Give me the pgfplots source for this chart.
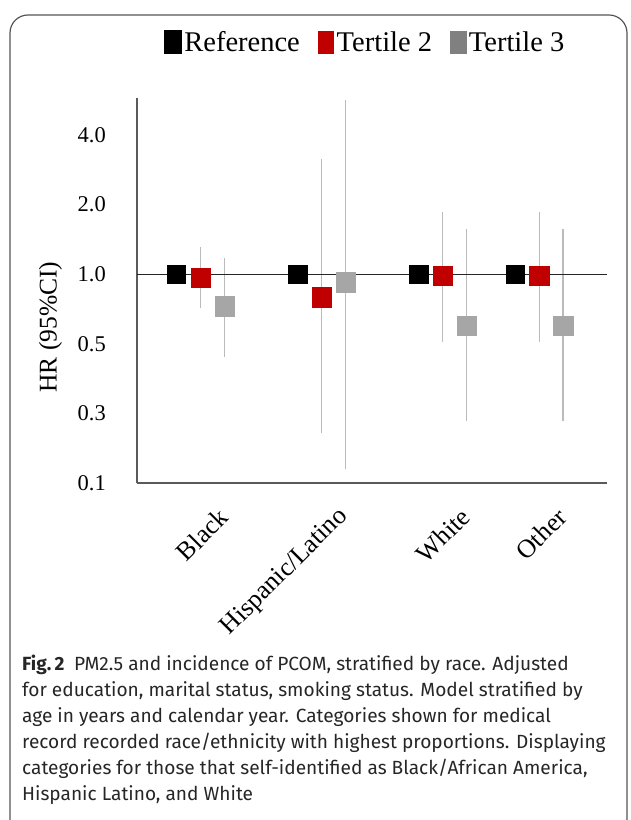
\documentclass[border=0pt]{standalone}
\usepackage{fontspec}
\usepackage{pgfplots}
\pgfplotsset{compat=1.18}
\setmainfont{Liberation Serif}
\newfontfamily\capfont{Fira Sans}
\definecolor{tred}{HTML}{C00000}
\definecolor{tgray}{HTML}{A6A6A6}
\definecolor{lgray}{HTML}{808080}
\definecolor{egray}{HTML}{BBBBBB}
\definecolor{axgray}{HTML}{5A5A5A}
\definecolor{framegray}{HTML}{555555}
\begin{document}
\begin{tikzpicture}[x=1pt,y=1pt]
\useasboundingbox (0,0) rectangle (630,820);
\draw[framegray, line width=1.2pt, rounded corners=18pt] (10,805) rectangle (627,-20);
\begin{axis}[
  at={(137pt,337pt)}, anchor=south west,
  scale only axis, width=470pt, height=385pt,
  xmin=137, xmax=607,
  ymode=log, log basis y=2,
  ymin=0.125, ymax=5.78,
  axis x line*=bottom, axis y line*=left,
  axis line style={draw=axgray, line width=1.2pt, -},
  major tick length=0pt,
  xtick={200.7,321.3,442.3,539.2},
  xticklabels={Black,Hispanic/Latino,White,Other},
  ytick={0.125,0.25,0.5,1,2,4},
  yticklabels={0.1,0.3,0.5,1.0,2.0,4.0},
  /pgf/number format/assume math mode=true,
  xticklabel style={font=\fontsize{26}{28}\selectfont, inner sep=0pt, xshift=23pt, yshift=-30pt, rotate=45, anchor=east},
  yticklabel style={font=\fontsize{22.5}{24}\selectfont, inner sep=0pt, xshift=-31pt, anchor=east},
  ylabel={HR (95\%CI)},
  every axis y label/.style={at={(axis description cs:-0.184,0.405)}, rotate=90, anchor=center, font=\fontsize{25.5}{27}\selectfont},
  legend columns=3,
  legend style={at={(axis description cs:0.487,1.145)}, anchor=center, draw=none, fill=none,
    font=\fontsize{28.5}{30}\selectfont, inner sep=0pt, nodes={inner sep=3pt},
    /tikz/every even column/.append style={column sep=15pt}},
  clip=false,
]
\addlegendimage{black, legend image code/.code={\fill[black] (0pt,-11.5pt) rectangle (16.5pt,11.5pt);}}
\addlegendentry{Reference}
\addlegendimage{tred, legend image code/.code={\fill[tred] (0pt,-11pt) rectangle (15.5pt,11pt);}}
\addlegendentry{Tertile 2}
\addlegendimage{lgray, legend image code/.code={\fill[lgray] (0pt,-11pt) rectangle (15.5pt,11pt);}}
\addlegendentry{Tertile 3}
% markers
\addplot[only marks, mark=square*, mark size=9.3pt, mark options={fill=black, draw=black, line width=0.3pt}, forget plot]
  coordinates {(176.3,1) (297.5,1) (418.5,1) (515.2,1)};
\addplot[only marks, mark=square*, mark size=9.6pt, mark options={fill=tred, draw=tred, line width=0.3pt}, forget plot]
  coordinates {(200.7,0.967) (321.3,0.796) (442.3,0.983) (539.2,0.983)};
\addplot[only marks, mark=square*, mark size=9.8pt, mark options={fill=tgray, draw=tgray, line width=0.3pt}, forget plot]
  coordinates {(224.7,0.728) (345.5,0.926) (466.5,0.599) (563,0.598)};
% confidence intervals
\addplot[egray, line width=1.4pt, forget plot] coordinates {(200.7,0.717) (200.7,1.309)};
\addplot[egray, line width=1.4pt, forget plot] coordinates {(321.3,0.205) (321.3,3.16)};
\addplot[egray, line width=1.4pt, forget plot] coordinates {(442.3,0.508) (442.3,1.85)};
\addplot[egray, line width=1.4pt, forget plot] coordinates {(539.2,0.508) (539.2,1.85)};
\addplot[egray, line width=1.4pt, forget plot] coordinates {(224.7,0.440) (224.7,1.173)};
\addplot[egray, line width=1.4pt, forget plot] coordinates {(345.5,0.144) (345.5,5.67)};
\addplot[egray, line width=1.4pt, forget plot] coordinates {(466.5,0.232) (466.5,1.566)};
\addplot[egray, line width=1.4pt, forget plot] coordinates {(563,0.232) (563,1.566)};
% reference line
\addplot[black!85, line width=1.2pt, forget plot] coordinates {(137,1) (607,1)};
\end{axis}
\node[anchor=north west, inner sep=0pt, align=left, text=black!85,
  font=\capfont\fontsize{19.1}{26}\selectfont] at (22,165)
{{\bfseries Fig.\,2}\enspace PM2.5 and incidence of PCOM, stratified by race. Adjusted\\
for education, marital status, smoking status. Model stratified by\\
age in years and calendar year. Categories shown for medical\\
record recorded race/ethnicity with highest proportions. Displaying\\
categories for those that self-identified as Black/African America,\\
Hispanic Latino, and White};
\end{tikzpicture}
\end{document}
